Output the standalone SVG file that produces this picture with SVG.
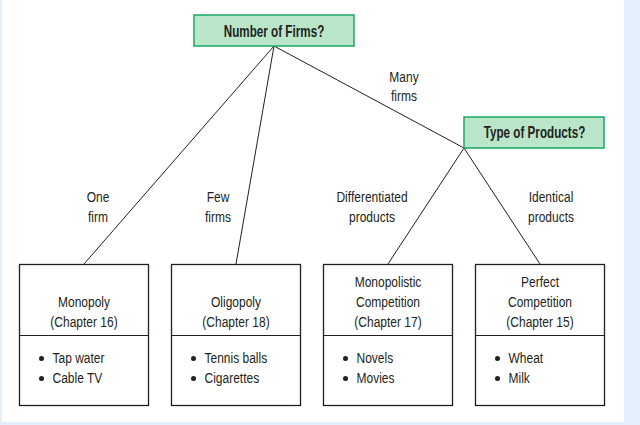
<svg xmlns="http://www.w3.org/2000/svg" width="640" height="425" viewBox="0 0 640 425">
<style>
text{font-family:"Liberation Sans",Arial,sans-serif;font-size:15px;fill:#231f20;}
.c{text-anchor:middle;}
.b{font-weight:bold;font-size:16px;}
.q{fill:#b9e5c8;stroke:#1aa860;stroke-width:1.5;}
.box{fill:#ffffff;stroke:#231f20;stroke-width:1.3;}
.ln{stroke:#231f20;stroke-width:1;fill:none;}
.dot{fill:#231f20;}
</style>
<rect x="0" y="0" width="640" height="425" fill="#e3f0fb"/>
<rect x="2" y="0" width="622" height="422" fill="#ffffff"/>
<g id="connectors">
<line class="ln" x1="274" y1="46" x2="84" y2="264"/>
<line class="ln" x1="274" y1="46" x2="236" y2="264"/>
<line class="ln" x1="274" y1="46" x2="464" y2="148"/>
<line class="ln" x1="464" y1="148" x2="388" y2="264"/>
<line class="ln" x1="464" y1="148" x2="540" y2="264"/>
<text class="c" transform="translate(98 202) scale(.8 1)">One</text>
<text class="c" transform="translate(98 221.5) scale(.8 1)">firm</text>
<text class="c" transform="translate(218 202) scale(.8 1)">Few</text>
<text class="c" transform="translate(218 221.5) scale(.8 1)">firms</text>
<text class="c" transform="translate(404 81.5) scale(.8 1)">Many</text>
<text class="c" transform="translate(404 101) scale(.8 1)">firms</text>
<text class="c" transform="translate(372 202) scale(.8 1)">Differentiated</text>
<text class="c" transform="translate(372 221.5) scale(.8 1)">products</text>
<text class="c" transform="translate(551 202) scale(.8 1)">Identical</text>
<text class="c" transform="translate(551 221.5) scale(.8 1)">products</text>
</g>
<g id="number-of-firms">
<rect class="q" x="194" y="15" width="160" height="31"/>
<text class="c b" transform="translate(274 36.5) scale(.73 1)">Number of Firms?</text>
</g>
<g id="type-of-products">
<rect class="q" x="464" y="117" width="140" height="31"/>
<text class="c b" transform="translate(534.5 138.3) scale(.73 1)">Type of Products?</text>
</g>
<g id="monopoly">
<rect class="box" x="19.5" y="264.5" width="129" height="141"/>
<line class="ln" x1="19.5" y1="335.5" x2="148.5" y2="335.5"/>
<text class="c" transform="translate(84 307) scale(.8 1)">Monopoly</text>
<text class="c" transform="translate(84 327) scale(.8 1)">(Chapter 16)</text>
<circle class="dot" cx="41.5" cy="358.5" r="2.5"/>
<text transform="translate(52.5 363.3) scale(.8 1)">Tap water</text>
<circle class="dot" cx="41.5" cy="378.5" r="2.5"/>
<text transform="translate(52.5 383.3) scale(.8 1)">Cable TV</text>
</g>
<g id="oligopoly">
<rect class="box" x="171.5" y="264.5" width="129" height="141"/>
<line class="ln" x1="171.5" y1="335.5" x2="300.5" y2="335.5"/>
<text class="c" transform="translate(236 307) scale(.8 1)">Oligopoly</text>
<text class="c" transform="translate(236 327) scale(.8 1)">(Chapter 18)</text>
<circle class="dot" cx="193.5" cy="358.5" r="2.5"/>
<text transform="translate(204.5 363.3) scale(.8 1)">Tennis balls</text>
<circle class="dot" cx="193.5" cy="378.5" r="2.5"/>
<text transform="translate(204.5 383.3) scale(.8 1)">Cigarettes</text>
</g>
<g id="monopolistic-competition">
<rect class="box" x="323.5" y="264.5" width="129" height="141"/>
<line class="ln" x1="323.5" y1="335.5" x2="452.5" y2="335.5"/>
<text class="c" transform="translate(388 287) scale(.8 1)">Monopolistic</text>
<text class="c" transform="translate(388 307) scale(.8 1)">Competition</text>
<text class="c" transform="translate(388 327) scale(.8 1)">(Chapter 17)</text>
<circle class="dot" cx="345.5" cy="358.5" r="2.5"/>
<text transform="translate(356.5 363.3) scale(.8 1)">Novels</text>
<circle class="dot" cx="345.5" cy="378.5" r="2.5"/>
<text transform="translate(356.5 383.3) scale(.8 1)">Movies</text>
</g>
<g id="perfect-competition">
<rect class="box" x="475.5" y="264.5" width="129" height="141"/>
<line class="ln" x1="475.5" y1="335.5" x2="604.5" y2="335.5"/>
<text class="c" transform="translate(540 287) scale(.8 1)">Perfect</text>
<text class="c" transform="translate(540 307) scale(.8 1)">Competition</text>
<text class="c" transform="translate(540 327) scale(.8 1)">(Chapter 15)</text>
<circle class="dot" cx="497.5" cy="358.5" r="2.5"/>
<text transform="translate(508.5 363.3) scale(.8 1)">Wheat</text>
<circle class="dot" cx="497.5" cy="378.5" r="2.5"/>
<text transform="translate(508.5 383.3) scale(.8 1)">Milk</text>
</g>
</svg>
